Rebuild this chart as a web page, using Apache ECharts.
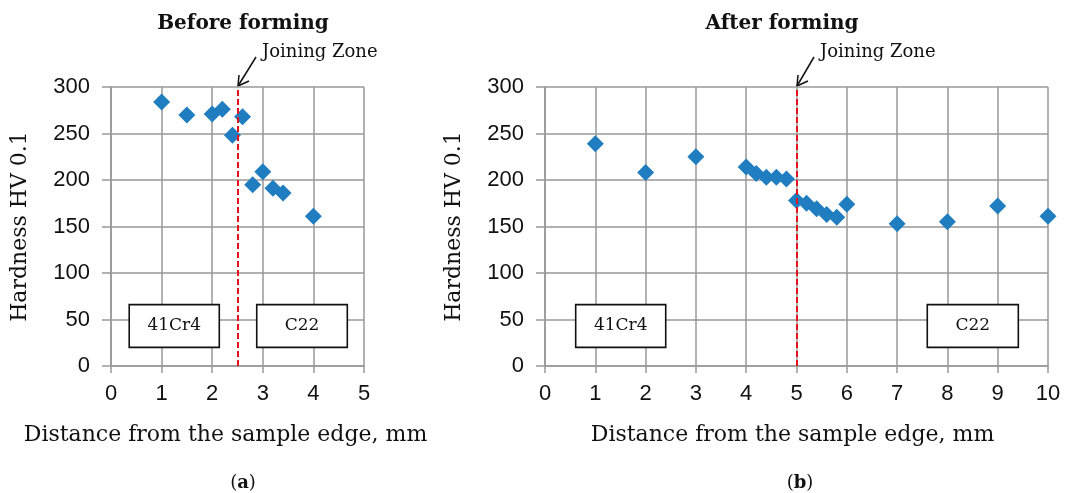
<!DOCTYPE html>
<html>
<head>
<meta charset="utf-8">
<script src="https://cdn.jsdelivr.net/npm/echarts@6/dist/echarts.min.js"></script>
<style>
  html, body { margin: 0; padding: 0; background: #fff; }
  #chart { width: 1067px; height: 493px; }
</style>
</head>
<body>
<div id="chart"></div>
<script>
// (a) before forming
const beforeX = [1, 1.5, 2, 2.2, 2.4, 2.6, 2.8, 3, 3.2, 3.4, 4]
const beforeY = [284, 270, 271, 276, 248, 268, 195, 209, 191, 186, 161]
// (b) after forming
const afterX = [1, 2, 3, 4, 4.2, 4.4, 4.6, 4.8, 5, 5.2, 5.4, 5.6, 5.8, 6, 7, 8, 9, 10]
const afterY = [239, 208, 225, 214, 207, 203, 203, 201, 178, 175, 169, 163, 160, 174, 153, 155, 172, 161]

const yTicks = [0, 50, 100, 150, 200, 250, 300]
const joinBefore = 2.5
const joinAfter = 5

const serif = '"DejaVu Serif", "Liberation Serif", serif'
const sans = '"Liberation Sans", Arial, sans-serif'
const blue = '#1f7dc0'
const gridColor = '#999999'

function xAxisCfg(idx, max, shift) {
	return {
		gridIndex: idx,
		type: 'value',
		min: 0,
		max: max,
		interval: 1,
		name: 'Distance from the sample edge, mm',
		nameLocation: 'middle',
		nameGap: 58,
		nameTextStyle: { fontFamily: serif, fontSize: 22, color: '#111', padding: [0, shift, 0, 0] },
		axisLine: { show: true, lineStyle: { color: gridColor, width: 1.5 } },
		axisTick: { show: true, inside: false, length: 7, lineStyle: { color: gridColor, width: 1.5 } },
		axisLabel: { fontFamily: sans, fontSize: 22, color: '#111', margin: 17 },
		splitLine: { show: true, lineStyle: { color: gridColor, width: 1.5 } }
	}
}

function yAxisCfg(idx) {
	return {
		gridIndex: idx,
		type: 'value',
		min: yTicks[0],
		max: yTicks[yTicks.length - 1],
		interval: 50,
		name: 'Hardness HV 0.1',
		nameLocation: 'middle',
		nameGap: 80,
		nameTextStyle: { fontFamily: serif, fontSize: 22, color: '#111' },
		axisLine: { show: true, lineStyle: { color: gridColor, width: 1.5 } },
		axisTick: { show: true, inside: false, length: 9, lineStyle: { color: gridColor, width: 1.5 } },
		axisLabel: { fontFamily: sans, fontSize: 22, color: '#111', margin: 21 },
		splitLine: { show: true, lineStyle: { color: gridColor, width: 1.5 } }
	}
}

function boxes(list) {
	return {
		silent: true,
		itemStyle: { color: '#fff', borderColor: '#111', borderWidth: 1.6 },
		label: { show: true, position: 'inside', fontFamily: serif, fontSize: 17, color: '#111' },
		data: list.map(b => [
			{ name: b.name, coord: [b.x0, b.y0] },
			{ coord: [b.x1, b.y1] }
		])
	}
}

function joinLine(x) {
	return {
		silent: true,
		symbol: ['none', 'none'],
		label: { show: false },
		lineStyle: { color: '#e8101a', type: [6, 3], width: 2 },
		data: [{ xAxis: x }]
	}
}

function arrow(tx, ty, hx, hy) {
	// label text plus an open arrow pointing down-left to the line top
	return [
		{
			type: 'text', left: tx, top: ty,
			style: { text: 'Joining Zone', font: '18px ' + serif, fill: '#111' }
		},
		{
			type: 'line',
			shape: { x1: tx - 6, y1: ty + 14, x2: hx, y2: hy },
			style: { stroke: '#111', lineWidth: 1.5 }
		},
		{
			type: 'polyline',
			shape: { points: [[hx + 1, hy - 11], [hx, hy], [hx + 11, hy - 5]] },
			style: { stroke: '#111', lineWidth: 1.5, fill: null }
		}
	]
}

const chart = echarts.init(document.getElementById('chart'))
const option = {
	animation: false,
	title: [
		{
			text: 'Before forming', left: 238, top: 9, textAlign: 'center',
			textStyle: { fontFamily: serif, fontSize: 20, fontWeight: 'bold', color: '#111' }
		},
		{
			text: 'After forming', left: 777, top: 9, textAlign: 'center',
			textStyle: { fontFamily: serif, fontSize: 20, fontWeight: 'bold', color: '#111' }
		},
		{
			text: '({a|a})', left: 238, top: 469, textAlign: 'center',
			textStyle: { fontFamily: serif, fontSize: 18, fontWeight: 'normal', color: '#111',
				rich: { a: { fontFamily: serif, fontSize: 18, fontWeight: 'bold', color: '#111' } } }
		},
		{
			text: '({a|b})', left: 795, top: 469, textAlign: 'center',
			textStyle: { fontFamily: serif, fontSize: 18, fontWeight: 'normal', color: '#111',
				rich: { a: { fontFamily: serif, fontSize: 18, fontWeight: 'bold', color: '#111' } } }
		}
	],
	grid: [
		{ left: 111, top: 87, width: 253, height: 279 },
		{ left: 545, top: 87, width: 503, height: 279 }
	],
	xAxis: [xAxisCfg(0, 5, 24), xAxisCfg(1, 10, 8)],
	yAxis: [yAxisCfg(0), yAxisCfg(1)],
	series: [
		{
			type: 'scatter',
			xAxisIndex: 0, yAxisIndex: 0,
			symbol: 'diamond', symbolSize: 17,
			itemStyle: { color: blue, opacity: 1 },
			data: beforeX.map((x, i) => [x, beforeY[i]]),
			markLine: joinLine(joinBefore),
			markArea: boxes([
				{ name: '41Cr4', x0: 0.36, x1: 2.14, y0: 20, y1: 66 },
				{ name: 'C22', x0: 2.88, x1: 4.67, y0: 20, y1: 66 }
			]),
			z: 3
		},
		{
			type: 'scatter',
			xAxisIndex: 1, yAxisIndex: 1,
			symbol: 'diamond', symbolSize: 17,
			itemStyle: { color: blue, opacity: 1 },
			data: afterX.map((x, i) => [x, afterY[i]]),
			markLine: joinLine(joinAfter),
			markArea: boxes([
				{ name: '41Cr4', x0: 0.61, x1: 2.4, y0: 20, y1: 66 },
				{ name: 'C22', x0: 7.6, x1: 9.41, y0: 20, y1: 66 }
			]),
			z: 3
		}
	],
	graphic: [].concat(arrow(262, 43, 238, 86), arrow(820, 43, 797, 86))
}
chart.setOption(option)
</script>
</body>
</html>
